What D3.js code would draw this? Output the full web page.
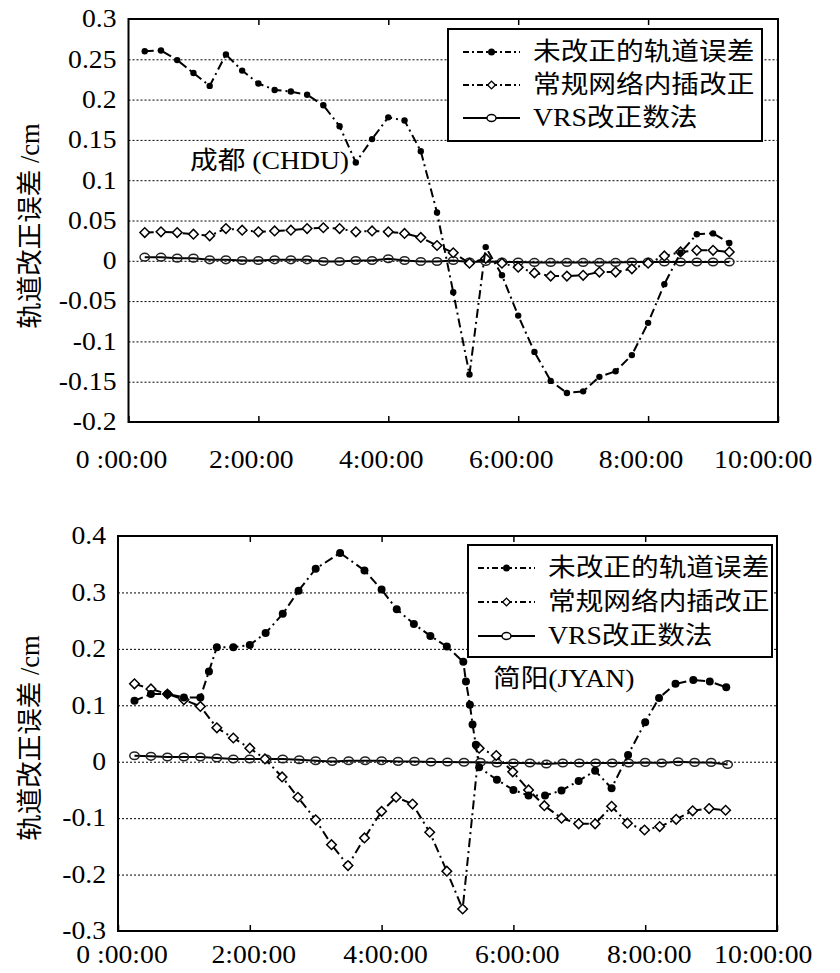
<!DOCTYPE html>
<html><head><meta charset="utf-8">
<script src="https://cdn.jsdelivr.net/npm/d3@7"></script>
<style>
body{margin:0;background:#fff}
</style></head><body>
<svg id="c" width="840" height="973"></svg>
<script>
// ---------- data ----------
const seriesNames = ["未改正的轨道误差", "常规网络内插改正", "VRS改正数法"];
const yTitle = "轨道改正误差 /cm";
const xTickValues = [0, 2, 4, 6, 8, 10];
const xTickLabels = ["0 :00:00", "2:00:00", "4:00:00", "6:00:00", "8:00:00", "10:00:00"];

// top chart: 成都 (CHDU)
const topStation = "成都 (CHDU)";
const topYTicks = [-0.2, -0.15, -0.1, -0.05, 0, 0.05, 0.1, 0.15, 0.2, 0.25, 0.3];
const topYLabels = ["-0.2", "-0.15", "-0.1", "-0.05", "0", "0.05", "0.1", "0.15", "0.2", "0.25", "0.3"];
const topTimes = [0.25,0.5,0.75,1,1.25,1.5,1.75,2,2.25,2.5,2.75,3,3.25,3.5,3.75,4,4.25,4.5,4.75,5,5.25,5.5,5.75,6,6.25,6.5,6.75,7,7.25,7.5,7.75,8,8.25,8.5,8.75,9,9.25];
const topUncorrected = [0.260,0.261,0.249,0.233,0.217,0.256,0.236,0.220,0.212,0.210,0.206,0.193,0.167,0.122,0.151,0.178,0.174,0.136,0.060,-0.039,-0.141,0.017,-0.018,-0.068,-0.113,-0.149,-0.164,-0.162,-0.144,-0.137,-0.117,-0.077,-0.029,0.010,0.033,0.034,0.022];
const topInterp = [0.035,0.036,0.035,0.033,0.031,0.040,0.038,0.036,0.037,0.038,0.040,0.041,0.040,0.036,0.037,0.036,0.034,0.029,0.019,0.010,-0.003,0.003,-0.003,-0.008,-0.015,-0.019,-0.019,-0.018,-0.014,-0.014,-0.010,-0.003,0.006,0.011,0.013,0.013,0.011];
const topVRS = [0.0045,0.0045,0.0033,0.0033,0.0012,0.0012,0.0004,0.0004,0.0012,0.0012,0.0012,-0.0008,-0.0008,0.0004,0.0004,0.0025,0.0004,-0.0008,-0.0008,0.0004,-0.0015,-0.0008,-0.0015,-0.0015,-0.002,-0.002,-0.002,-0.002,-0.002,-0.002,-0.0015,-0.0015,-0.0015,-0.0015,-0.0015,-0.0015,-0.0015];

// bottom chart: 简阳(JYAN)
const botStation = "简阳(JYAN)";
const botYTicks = [-0.3, -0.2, -0.1, 0, 0.1, 0.2, 0.3, 0.4];
const botYLabels = ["-0.3", "-0.2", "-0.1", "0", "0.1", "0.2", "0.3", "0.4"];
const botUncorrTimes = [0.25,0.5,0.75,1.0,1.25,1.38,1.5,1.75,2.0,2.24,2.5,2.74,3.0,3.37,3.74,4.0,4.23,4.49,4.74,4.99,5.24,5.28,5.34,5.38,5.43,5.48,5.75,6.0,6.23,6.48,6.73,6.99,7.24,7.49,7.74,8.0,8.21,8.46,8.73,8.98,9.23];
const botUncorrected = [0.108,0.120,0.120,0.114,0.114,0.160,0.203,0.203,0.207,0.228,0.262,0.303,0.342,0.370,0.339,0.305,0.270,0.244,0.223,0.204,0.177,0.142,0.101,0.066,0.030,-0.010,-0.032,-0.050,-0.060,-0.060,-0.051,-0.034,-0.016,-0.047,0.012,0.070,0.113,0.138,0.145,0.142,0.132];
const botInterpTimes = [0.25,0.5,0.75,1.0,1.25,1.5,1.75,2.0,2.23,2.49,2.73,3.0,3.24,3.49,3.74,4.0,4.22,4.47,4.73,4.99,5.23,5.48,5.74,5.99,6.23,6.47,6.73,6.99,7.24,7.49,7.73,7.99,8.22,8.47,8.72,8.97,9.22];
const botInterp = [0.138,0.129,0.120,0.110,0.098,0.060,0.042,0.024,0.005,-0.027,-0.063,-0.103,-0.147,-0.184,-0.135,-0.088,-0.063,-0.075,-0.125,-0.194,-0.261,0.024,0.011,-0.018,-0.050,-0.078,-0.100,-0.110,-0.110,-0.079,-0.109,-0.121,-0.115,-0.102,-0.087,-0.083,-0.086];
const botVRSTimes = [0.25,0.5,0.75,1,1.25,1.5,1.75,2,2.25,2.5,2.75,3,3.25,3.5,3.75,4,4.25,4.5,4.75,5,5.25,5.5,5.75,6,6.25,6.5,6.75,7,7.25,7.5,7.75,8,8.25,8.5,8.75,9,9.25];
const botVRS = [0.0106,0.0095,0.0083,0.0083,0.0083,0.0065,0.0047,0.0047,0.0047,0.0047,0.0035,0.0018,0.0006,0.0018,0.0018,0.0018,0.0006,0.0006,-0.0006,-0.0006,-0.001,-0.001,-0.0024,-0.0024,-0.0024,-0.004,-0.0024,-0.0024,-0.0024,-0.0024,-0.0024,-0.0012,-0.0024,0.0,-0.0012,-0.0012,-0.005];

// ---------- drawing ----------
const FONT = "'Liberation Serif', 'Noto Sans CJK SC', serif";
const SX = 1.13;            // horizontal glyph stretch seen in the reference
const FS = 24.5;            // label font size
const DASH = "9,4,2,4";
const svg = d3.select("#c");

function zip(ts, vs) { return ts.map((t, i) => ({t, v: vs[i]})); }

function drawChart(o) {
  const g = svg.append("g");
  const x = d3.scaleLinear().domain([0, 10]).range([o.left, o.right]);
  const y = d3.scaleLinear().domain(o.yDomain).range([o.bottom, o.top]);

  // grid lines
  const grid = g.append("g").attr("transform", `translate(${o.left},0)`)
    .call(d3.axisLeft(y).tickValues(o.yTicks.slice(1, -1)).tickSize(-(o.right - o.left)).tickFormat(""));
  grid.select(".domain").remove();
  grid.selectAll("line").attr("stroke", "#000").attr("stroke-width", 1).attr("stroke-dasharray", "2,2");

  // y tick labels
  const ya = g.append("g").attr("transform", `translate(${o.left},0)`)
    .call(d3.axisLeft(y).tickValues(o.yTicks).tickFormat((d, i) => o.yLabels[i]).tickSize(0).tickPadding(12));
  ya.select(".domain").remove();
  ya.selectAll("text").style("font-family", FONT).attr("fill", "#000").attr("font-size", FS)
    .attr("x", -12 / SX).attr("transform", `scale(${SX},1)`);

  // x axis: inner ticks + labels
  const xa = g.append("g").attr("transform", `translate(0,${o.bottom})`)
    .call(d3.axisBottom(x).tickValues(xTickValues).tickFormat((d, i) => xTickLabels[i]).tickSizeInner(-6).tickSizeOuter(0));
  xa.select(".domain").remove();
  xa.selectAll("line").attr("stroke", "#000").attr("stroke-width", 1.5);
  xa.selectAll("text").style("font-family", FONT).attr("fill", "#000").attr("font-size", FS).attr("y", 0).attr("dy", null)
    .attr("text-anchor", "middle")
    .attr("transform", function(d) {
      const w = this.getComputedTextLength() * SX;
      let cx = x(d) + o.xLabelDx;
      if (cx + w / 2 > 812) cx = 812 - w / 2;
      return `translate(${cx - x(d)},${o.xLabelBase}) scale(${SX},1)`;
    });
  const xt = g.append("g").attr("transform", `translate(0,${o.top})`)
    .call(d3.axisTop(x).tickValues([2, 4, 6, 8]).tickSize(-6).tickFormat(""));
  xt.select(".domain").remove();
  xt.selectAll("line").attr("stroke", "#000").attr("stroke-width", 1.5);

  // series
  const line = d3.line().x(d => x(d.t)).y(d => y(d.v));
  const s3 = zip(o.vrsT, o.vrs), s2 = zip(o.intT, o.int), s1 = zip(o.uncT, o.unc);

  g.append("path").datum(s3).attr("d", line).attr("fill", "none").attr("stroke", "#000").attr("stroke-width", 2);
  g.append("g").selectAll("ellipse").data(s3).join("ellipse")
    .attr("cx", d => x(d.t)).attr("cy", d => y(d.v)).attr("rx", 4.7).attr("ry", 3.8)
    .attr("fill", "none").attr("stroke", "#222").attr("stroke-width", 1.5);

  g.append("path").datum(s2).attr("d", line).attr("fill", "none").attr("stroke", "#000").attr("stroke-width", 2).attr("stroke-dasharray", DASH);
  g.append("g").selectAll("path").data(s2).join("path")
    .attr("d", d3.symbol(d3.symbolSquare, 46)())
    .attr("transform", d => `translate(${x(d.t)},${y(d.v)}) rotate(45)`)
    .attr("fill", "#fff").attr("stroke", "#000").attr("stroke-width", 1.5);

  g.append("path").datum(s1).attr("d", line).attr("fill", "none").attr("stroke", "#000").attr("stroke-width", 2).attr("stroke-dasharray", DASH);
  g.append("g").selectAll("circle").data(s1).join("circle")
    .attr("cx", d => x(d.t)).attr("cy", d => y(d.v)).attr("r", o.dotR).attr("fill", "#000");

  // frame
  g.append("rect").attr("x", o.left).attr("y", o.top).attr("width", o.right - o.left).attr("height", o.bottom - o.top)
    .attr("fill", "none").attr("stroke", "#000").attr("stroke-width", 2);

  // station label
  g.append("text").attr("transform", `translate(${o.stX},${o.stY}) scale(${SX},1)`)
    .style("font-family", FONT).attr("font-size", FS).attr("dominant-baseline", "central").text(o.station);

  // y title
  g.append("text").attr("transform", `translate(30,${o.titleY}) rotate(-90)`)
    .style("font-family", FONT).attr("font-size", 26.5).attr("text-anchor", "middle").attr("dominant-baseline", "central").text(yTitle);

  // legend
  const L = o.legend;
  const lg = g.append("g");
  lg.append("rect").attr("x", L.x).attr("y", L.y).attr("width", L.w).attr("height", L.h)
    .attr("fill", "#fff").attr("stroke", "#000").attr("stroke-width", 2);
  seriesNames.forEach((name, i) => {
    const ry = L.row0 + i * L.step;
    const mx = (L.lx0 + L.lx1) / 2;
    lg.append("line").attr("x1", L.lx0).attr("x2", L.lx1).attr("y1", ry).attr("y2", ry)
      .attr("stroke", "#000").attr("stroke-width", 2).attr("stroke-dasharray", i < 2 ? "6,3,2,3" : null);
    if (i === 0) lg.append("circle").attr("cx", mx).attr("cy", ry).attr("r", 3.5).attr("fill", "#000");
    if (i === 1) lg.append("path").attr("d", d3.symbol(d3.symbolSquare, 30)())
      .attr("transform", `translate(${mx},${ry}) rotate(45)`).attr("fill", "#fff").attr("stroke", "#000").attr("stroke-width", 1.4);
    if (i === 2) lg.append("ellipse").attr("cx", mx).attr("cy", ry).attr("rx", 4.5).attr("ry", 3.5)
      .attr("fill", "#fff").attr("stroke", "#000").attr("stroke-width", 1.4);
    lg.append("text").attr("transform", `translate(${L.tx},${ry}) scale(${SX},1)`)
      .style("font-family", FONT).attr("font-size", FS).attr("dominant-baseline", "central").text(name);
  });
}

drawChart({
  left: 128.5, right: 778, top: 19, bottom: 422, yDomain: [-0.2, 0.3],
  yTicks: topYTicks, yLabels: topYLabels, xLabelDx: -7.5, xLabelBase: 46,
  uncT: topTimes, unc: topUncorrected, intT: topTimes, int: topInterp, vrsT: topTimes, vrs: topVRS,
  dotR: 3.2, station: topStation, stX: 190, stY: 161, titleY: 226,
  legend: {x: 448, y: 29, w: 314, h: 112, row0: 52, step: 33, lx0: 463, lx1: 520, tx: 533}
});
drawChart({
  left: 118, right: 777, top: 536, bottom: 931, yDomain: [-0.3, 0.4],
  yTicks: botYTicks, yLabels: botYLabels, xLabelDx: 3.5, xLabelBase: 32,
  uncT: botUncorrTimes, unc: botUncorrected, intT: botInterpTimes, int: botInterp, vrsT: botVRSTimes, vrs: botVRS,
  dotR: 4, station: botStation, stX: 493, stY: 679, titleY: 738,
  legend: {x: 468, y: 545, w: 304, h: 112, row0: 568, step: 34, lx0: 478, lx1: 535, tx: 548}
});
</script>
</body></html>
